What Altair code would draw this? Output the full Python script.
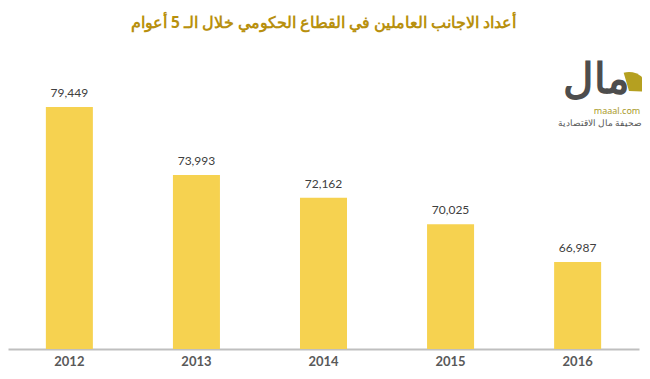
import altair as alt
import pandas as pd

years = ["2012", "2013", "2014", "2015", "2016"]
workers = [79449, 73993, 72162, 70025, 66987]

df = pd.DataFrame({"year": years, "workers": workers})

FONT = "Lato"

base = alt.Chart(df)

bars = base.mark_bar(color="#F6D250").encode(
    x=alt.X("year:N", sort=years,
            scale=alt.Scale(paddingInner=0.63, paddingOuter=0.298),
            axis=alt.Axis(title=None, labelAngle=0, ticks=False,
                          domainColor="#BFBFBF", domainWidth=2,
                          labelFont=FONT, labelFontWeight="bold",
                          labelFontSize=13, labelColor="#595959",
                          labelPadding=6, grid=False)),
    y=alt.Y("workers:Q",
            scale=alt.Scale(domain=[60000, 85000], zero=False, nice=False, clamp=True),
            axis=None),
)

labels = base.mark_text(baseline="bottom", dy=-7, font=FONT, fontSize=12,
                        color="#404040").encode(
    x=alt.X("year:N", sort=years),
    y=alt.Y("workers:Q"),
    text=alt.Text("workers:Q", format=",d"),
)

logo_df = pd.DataFrame({"a": [0]})
logo_word = alt.Chart(logo_df).mark_text(
    text="مال", font="Noto Sans", fontSize=42, fontWeight="bold",
    color="#4D4D4D", align="right", baseline="alphabetic").encode(
    x=alt.value(622), y=alt.value(55))
logo_arc = alt.Chart(logo_df).mark_arc(
    color="#B5A020", theta=6.0, theta2=7.9, radius=19).encode(
    x=alt.value(621), y=alt.value(53))
logo_site = alt.Chart(logo_df).mark_text(
    text="maaal.com", font="Noto Sans", fontSize=9,
    color="#A99A2A", align="center", baseline="middle").encode(
    x=alt.value(609), y=alt.value(73))
logo_sub = alt.Chart(logo_df).mark_text(
    text="صحيفة مال الاقتصادية", font="Noto Sans", fontSize=9,
    color="#555555", align="center", baseline="middle").encode(
    x=alt.value(592), y=alt.value(85))

chart = alt.layer(bars, labels, logo_word, logo_arc, logo_site, logo_sub).properties(
    width=631, height=311,
    title=alt.TitleParams(
        "أعداد الاجانب العاملين في القطاع الحكومي خلال الـ 5 أعوام",
        font="Noto Sans", fontSize=15.5, fontWeight="bold", color="#B8900E",
        anchor="middle", offset=7),
    autosize=alt.AutoSizeParams(type="none"),
    padding={"left": 0, "top": 30, "right": 3, "bottom": 22},
    background="white",
).configure_view(stroke=None)

chart.save("out.html", embed_options={"renderer": "svg", "actions": False})
